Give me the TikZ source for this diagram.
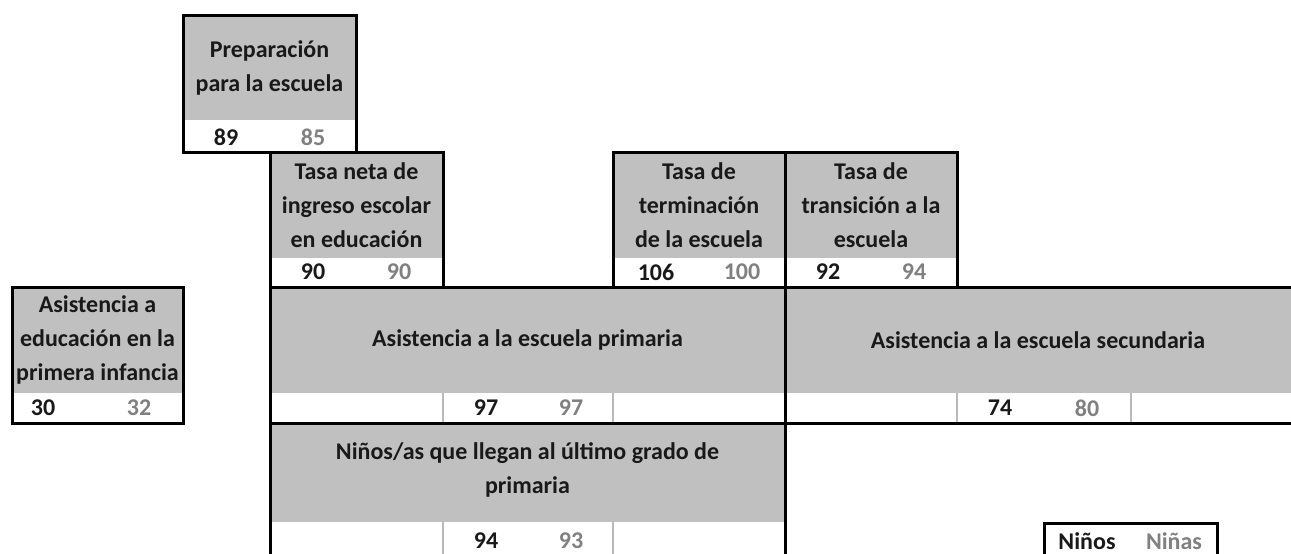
\documentclass[tikz,border=0pt]{standalone}
\usepackage{fontspec}
\setmainfont{Carlito}
\definecolor{cellgray}{HTML}{C0C0C0}
\definecolor{numgray}{HTML}{808080}
\definecolor{sepgray}{HTML}{B8B8B8}
\begin{document}
\begin{tikzpicture}[x=1pt,y=-1pt,
  hdrfill/.style={fill=cellgray},
  frame/.style={draw=black,line width=3pt},
  sepline/.style={draw=sepgray,line width=2pt},
  lbl/.style={font=\bfseries\fontsize{24}{34}\selectfont,align=center,inner sep=0pt,text=black!90},
  numb/.style={font=\bfseries\fontsize{24}{28}\selectfont,inner sep=0pt,text=black!90},
  numg/.style={font=\bfseries\fontsize{24}{28}\selectfont,inner sep=0pt,text=numgray}]
\useasboundingbox (0,0) rectangle (1291,554);
% fills
\fill[hdrfill] (183,15) rectangle (356,120);
\fill[hdrfill] (270,152) rectangle (443,258);
\fill[hdrfill] (613,152) rectangle (957,258);
\fill[hdrfill] (12,287) rectangle (183,393);
\fill[hdrfill] (270,287) rectangle (1291,393);
\fill[hdrfill] (270,423) rectangle (785,522);
% separators
\draw[sepline] (443,393) -- (443,423);
\draw[sepline] (613,393) -- (613,423);
\draw[sepline] (957,393) -- (957,423);
\draw[sepline] (1131,393) -- (1131,423);
\draw[sepline] (443,522) -- (443,560);
\draw[sepline] (613,522) -- (613,560);
% frames
\draw[frame] (183,15) rectangle (356,152);
\draw[frame] (270,152) rectangle (443,287);
\draw[frame] (613,152) rectangle (785,287);
\draw[frame] (785,152) rectangle (957,287);
\draw[frame] (12,287) rectangle (183,423);
\draw[frame] (270,287) rectangle (785,423);
\draw[frame] (1295,287) -- (785,287) -- (785,423) -- (1295,423);
\draw[frame] (270,560) -- (270,423) -- (785,423) -- (785,560);
\draw[frame] (1044,560) -- (1044,523) -- (1217,523) -- (1217,560);
% labels
\node[lbl] (prep) at (269.5,67.5) {Preparación\\para la escuela};
\node[lbl] (neta) at (356.5,205) {Tasa neta de\\ingreso escolar\\en educación};
\node[lbl] (term) at (699,205) {Tasa de\\terminación\\de la escuela};
\node[lbl] (trans) at (871,205) {Tasa de\\transición a la\\escuela};
\node[lbl] (inf) at (97.5,340) {Asistencia a\\educación en la\\primera infancia};
\node[lbl] (prim) at (527.5,340) {Asistencia a la escuela primaria};
\node[lbl] (sec) at (1038,340) {Asistencia a la escuela secundaria};
\node[lbl] (ult) at (527.5,470) {Niños/as que llegan al último grado de\\primaria};
% numbers
\node[numb] (n1) at (226,137) {89};
\node[numg] (g1) at (313,137) {85};
\node[numb] (n2) at (313,272) {90};
\node[numg] (g2) at (399,272) {90};
\node[numb] (n3) at (656,272) {106};
\node[numg] (g3) at (742,272) {100};
\node[numb] (n4) at (828,272) {92};
\node[numg] (g4) at (914,272) {94};
\node[numb] (n5) at (43,408) {30};
\node[numg] (g5) at (139,408) {32};
\node[numb] (n6) at (486,408) {97};
\node[numg] (g6) at (571,408) {97};
\node[numb] (n7) at (1000,408) {74};
\node[numg] (g7) at (1087,408) {80};
\node[numb] (n8) at (486,541) {94};
\node[numg] (g8) at (571,541) {93};
\node[numb] (legb) at (1087,541) {Niños};
\node[numg] (legg) at (1174,541) {Niñas};
\end{tikzpicture}
\end{document}
